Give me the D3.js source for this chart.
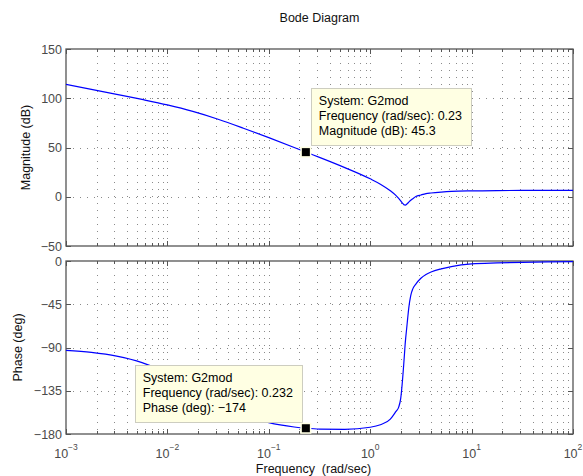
<!DOCTYPE html>
<html>
<head>
<meta charset="utf-8">
<script src="https://cdn.jsdelivr.net/npm/d3@7"></script>
<style>
  body { margin: 0; background: #fff; }
  svg { display: block; }
  text { font-family: "Liberation Sans", Arial, Helvetica, sans-serif; }
</style>
</head>
<body>
<svg id="chart" width="583" height="476"></svg>
<script>
// Frequency response of G2mod, sampled on a log frequency grid (rad/sec)
const freqs = [0.001, 0.00178, 0.00316, 0.00562, 0.01, 0.0178, 0.0316, 0.0562, 0.1, 0.178,
  0.232, 0.316, 0.562, 1, 1.26, 1.58, 1.78, 1.91, 2.0, 2.09,
  2.14, 2.19, 2.21, 2.24, 2.29, 2.34, 2.40, 2.51, 2.63, 2.82,
  3.16, 3.55, 3.98, 5.01, 6.31, 10, 17.8, 31.6, 56.2, 100];
const magDb = [114.1, 109.1, 104.0, 98.8, 93.2, 86.6, 78.7, 69.6, 60.0, 50.0,
  45.3, 40.0, 29.6, 18.2, 12.8, 6.1, 1.6, -1.7, -4.2, -6.8,
  -7.8, -8.4, -8.5, -8.3, -7.6, -6.6, -5.5, -3.6, -2.0, 0.2,
  1.8, 3.2, 3.8, 4.7, 5.4, 6.0, 6.31, 6.40, 6.43, 6.44];
const phaseDeg = [-92.9, -95.1, -99.0, -105.7, -116.5, -131.6, -147.5, -160.2, -168.2, -172.7,
  -174, -174.9, -175.1, -173.0, -170.4, -164.5, -157, -152, -143, -122,
  -108, -93, -87, -80, -70, -60, -49, -36, -29, -24,
  -18, -14, -11.5, -8.2, -5.8, -3.0, -2.0, -1.4, -1.0, -0.7];

const magTicks = [150, 100, 50, 0, -50];
const phaseTicks = [0, -45, -90, -135, -180];
const decadeExps = [-3, -2, -1, 0, 1, 2];

// Data tips
const magTip = { freq: 0.232, value: 45.3, lines: ["System: G2mod", "Frequency (rad/sec): 0.23", "Magnitude (dB): 45.3"] };
const phaseTip = { freq: 0.232, value: -174, lines: ["System: G2mod", "Frequency (rad/sec): 0.232", "Phase (deg): \u2212174"] };

const svg = d3.select("#chart");
const fs = 12.5;
const frameColor = "#555";
const tickTextColor = "#4a4a4a";

const x = d3.scaleLog().domain([1e-3, 1e2]).range([66, 573]);
const yMag = d3.scaleLinear().domain([-50, 150]).range([246, 49]);
const yPh = d3.scaleLinear().domain([-180, 0]).range([434, 261]);

const minus = v => (v < 0 ? "\u2212" + Math.abs(v) : String(v));

// minor/major log positions
const logGrid = [];
decadeExps.forEach(e => {
  for (let m = 1; m <= 9; m++) {
    const v = m * Math.pow(10, e);
    if (v >= 1e-3 * 0.999 && v <= 1e2 * 1.001) logGrid.push({ v, major: m === 1 });
  }
});

function drawAxes(y, ticks, clipId) {
  const [x0, x1] = x.range();
  const [yb, yt] = y.range();
  const g = svg.append("g");

  // grid: vertical dotted lines at every log tick
  g.selectAll("line.vg").data(logGrid.filter(d => d.v > 1e-3 * 1.001 && d.v < 1e2 * 0.999)).enter()
    .append("line")
    .attr("x1", d => Math.round(x(d.v)) + 0.5).attr("x2", d => Math.round(x(d.v)) + 0.5)
    .attr("y1", yt).attr("y2", yb)
    .attr("stroke", "#8a8a8a").attr("stroke-width", 1).attr("stroke-dasharray", "1,6");
  // horizontal dotted lines at the major y ticks
  g.selectAll("line.hg").data(ticks.filter(t => y(t) > yt + 1 && y(t) < yb - 1)).enter()
    .append("line")
    .attr("x1", x0).attr("x2", x1)
    .attr("y1", d => Math.round(y(d)) + 0.5).attr("y2", d => Math.round(y(d)) + 0.5)
    .attr("stroke", "#8a8a8a").attr("stroke-width", 1).attr("stroke-dasharray", "1,6");

  // x ticks inward on bottom and top
  logGrid.forEach(d => {
    const px = Math.round(x(d.v)) + 0.5;
    const len = d.major ? 5 : 3;
    g.append("line").attr("x1", px).attr("x2", px).attr("y1", yb).attr("y2", yb - len)
      .attr("stroke", frameColor).attr("stroke-width", 1);
    g.append("line").attr("x1", px).attr("x2", px).attr("y1", yt).attr("y2", yt + len)
      .attr("stroke", frameColor).attr("stroke-width", 1);
  });
  // y ticks inward on left and right, with labels on the left
  ticks.forEach(t => {
    const py = Math.round(y(t)) + 0.5;
    g.append("line").attr("x1", x0).attr("x2", x0 + 5).attr("y1", py).attr("y2", py)
      .attr("stroke", frameColor).attr("stroke-width", 1);
    g.append("line").attr("x1", x1).attr("x2", x1 - 5).attr("y1", py).attr("y2", py)
      .attr("stroke", frameColor).attr("stroke-width", 1);
    g.append("text").attr("x", x0 - 4).attr("y", y(t)).attr("dy", "0.36em")
      .attr("text-anchor", "end").attr("font-size", fs).attr("fill", tickTextColor)
      .text(minus(t));
  });

  // frame
  g.append("rect").attr("x", x0).attr("y", yt).attr("width", x1 - x0).attr("height", yb - yt)
    .attr("fill", "none").attr("stroke", frameColor).attr("stroke-width", 1.3);

  svg.append("clipPath").attr("id", clipId).append("rect")
    .attr("x", x0).attr("y", yt).attr("width", x1 - x0).attr("height", yb - yt);
}

drawAxes(yMag, magTicks, "clipMag");
drawAxes(yPh, phaseTicks, "clipPh");

// response curves
const pts = freqs.map((f, i) => ({ f, m: magDb[i], p: phaseDeg[i] }));
svg.append("path").datum(pts)
  .attr("clip-path", "url(#clipMag)")
  .attr("d", d3.line().x(d => x(d.f)).y(d => yMag(d.m)).curve(d3.curveMonotoneX))
  .attr("fill", "none").attr("stroke", "#0000ff").attr("stroke-width", 1.2);
svg.append("path").datum(pts)
  .attr("clip-path", "url(#clipPh)")
  .attr("d", d3.line().x(d => x(d.f)).y(d => yPh(d.p)).curve(d3.curveMonotoneX))
  .attr("fill", "none").attr("stroke", "#0000ff").attr("stroke-width", 1.2);

// x tick labels (10^n) under the phase axes
decadeExps.forEach(e => {
  const t = svg.append("text").attr("x", x(Math.pow(10, e))).attr("y", 457.5)
    .attr("text-anchor", "middle").attr("font-size", fs).attr("fill", tickTextColor);
  t.append("tspan").text("10");
  t.append("tspan").attr("dy", -8).attr("font-size", 8.5).text(minus(e));
});

// data tips
function drawTip(tip, y, place) {
  const mx = x(tip.freq), my = y(tip.value);
  const g = svg.append("g");
  const lh = 15;
  const texts = tip.lines.map(s => g.append("text").attr("font-size", fs).attr("fill", "#000").text(s));
  const w = d3.max(texts, t => t.node().getComputedTextLength()) + 17;
  const h = 57;
  let bx, by;
  if (place === "upper-right") { bx = mx + 5; by = my - 7 - h; }
  else { bx = mx - 4 - w; by = my - 6.5 - h; }
  g.insert("rect", "text").attr("x", Math.round(bx) + 0.5).attr("y", Math.round(by) + 0.5)
    .attr("width", Math.round(w)).attr("height", h)
    .attr("fill", "#ffffe3").attr("stroke", "#cdcdc0").attr("stroke-width", 1);
  texts.forEach((t, i) => t.attr("x", bx + 8).attr("y", by + 17 + i * lh));
  // marker
  svg.append("rect").attr("x", mx - 5.5).attr("y", my - 5.5).attr("width", 11).attr("height", 11)
    .attr("fill", "#ffffe3");
  svg.append("rect").attr("x", mx - 4).attr("y", my - 4).attr("width", 8).attr("height", 8)
    .attr("fill", "#000");
}
drawTip(magTip, yMag, "upper-right");
drawTip(phaseTip, yPh, "upper-left");

// titles and axis labels
svg.append("text").attr("x", 319.5).attr("y", 22).attr("text-anchor", "middle")
  .attr("font-size", fs).attr("fill", "#111").text("Bode Diagram");
svg.append("text").attr("transform", "translate(29.5,147.5) rotate(-90)").attr("text-anchor", "middle")
  .attr("font-size", fs).attr("fill", "#111").text("Magnitude (dB)");
svg.append("text").attr("transform", "translate(21.5,347.5) rotate(-90)").attr("text-anchor", "middle")
  .attr("font-size", fs).attr("fill", "#111").text("Phase (deg)");
svg.append("text").attr("x", 313.5).attr("y", 472.5).attr("text-anchor", "middle")
  .attr("font-size", fs).attr("fill", "#111").attr("xml:space", "preserve")
  .style("white-space", "pre").text("Frequency  (rad/sec)");
</script>
</body>
</html>
